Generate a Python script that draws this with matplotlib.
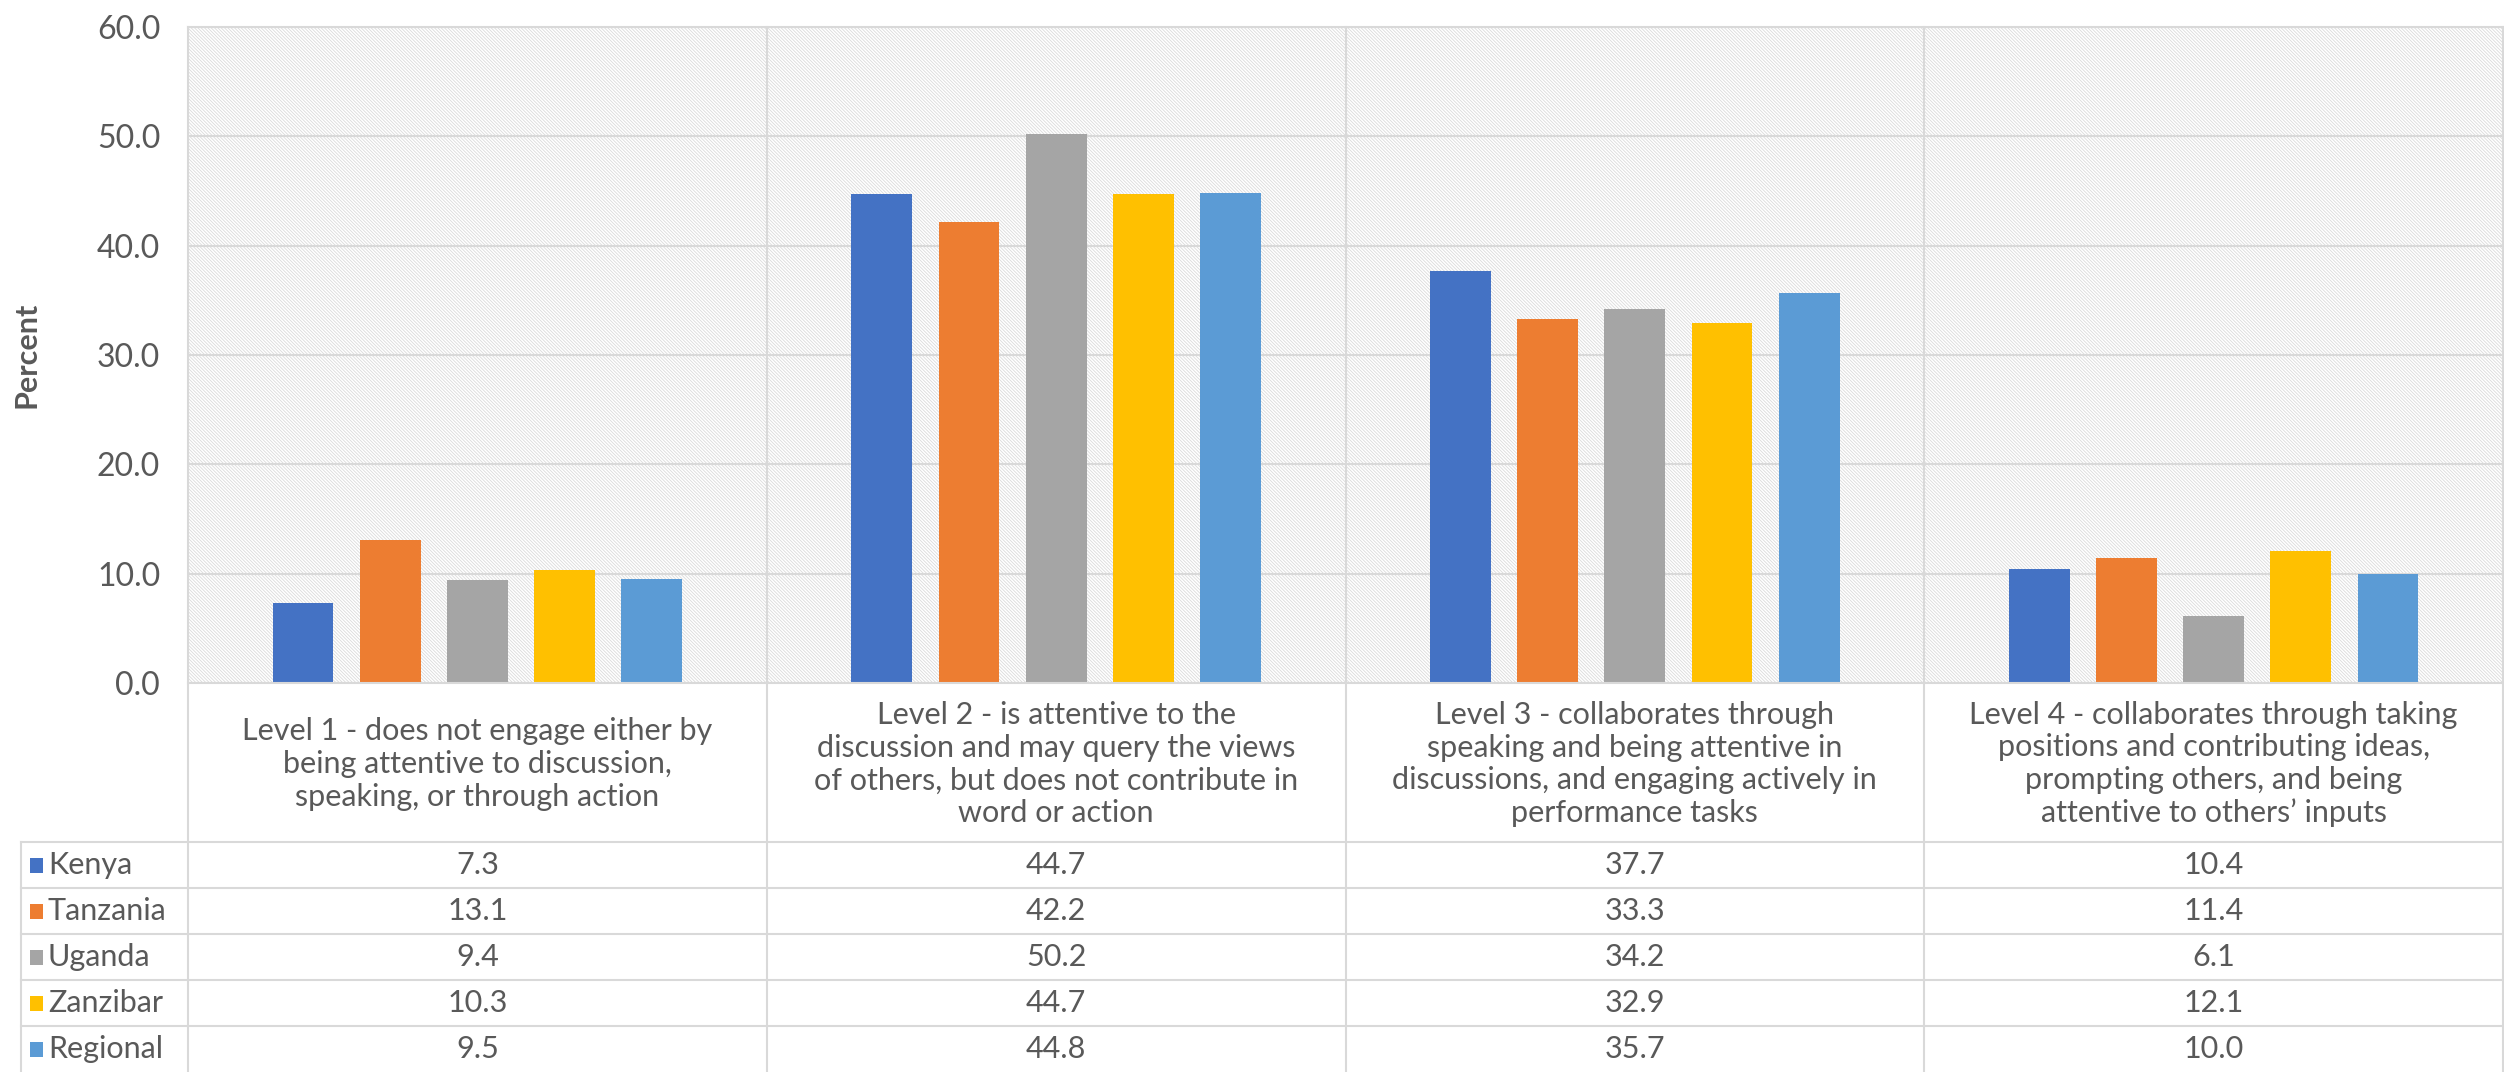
import matplotlib
matplotlib.use('Agg')
import matplotlib.pyplot as plt
from matplotlib.transforms import blended_transform_factory
from matplotlib.lines import Line2D
from matplotlib.patches import Rectangle

# ---------------- data ----------------
categories = [
    "Level 1 - does not engage either by\nbeing attentive to discussion,\nspeaking, or through action",
    "Level 2 - is attentive to the\ndiscussion and may query the views\nof others, but does not contribute in\nword or action",
    "Level 3 - collaborates through\nspeaking and being attentive in\ndiscussions, and engaging actively in\nperformance tasks",
    "Level 4 - collaborates through taking\npositions and contributing ideas,\nprompting others, and being\nattentive to others\u2019 inputs",
]
series_names = ["Kenya", "Tanzania", "Uganda", "Zanzibar", "Regional"]
kenya = [7.3, 44.7, 37.7, 10.4]
tanzania = [13.1, 42.2, 33.3, 11.4]
uganda = [9.4, 50.2, 34.2, 6.1]
zanzibar = [10.3, 44.7, 32.9, 12.1]
regional = [9.5, 44.8, 35.7, 10.0]
series_values = [kenya, tanzania, uganda, zanzibar, regional]
colors = ["#4472C4", "#ED7D31", "#A5A5A5", "#FFC000", "#5B9BD5"]
yticks = [0, 10, 20, 30, 40, 50, 60]
ylabel = "Percent"

# ---------------- style ----------------
plt.rcParams['font.family'] = ['Lato', 'DejaVu Sans']
TXT = '#595959'
GRID = '#d9d9d9'
FS = 22

W, H = 2504, 1072
fig = plt.figure(figsize=(W / 100, H / 100), dpi=100)

def fx(x):
    return x / W

def fy(y):
    return 1 - y / H

L, R, T, B = 188, 2503, 27, 683
ax = fig.add_axes([fx(L), fy(B), fx(R) - fx(L), fy(T) - fy(B)])

n = len(categories)
ax.set_xlim(-0.5, n - 0.5)
ax.set_ylim(0, 60)

# hatched background
plt.rcParams['hatch.linewidth'] = 0.6
bg = Rectangle((0, 0), 1, 1, transform=ax.transAxes, facecolor='white',
               edgecolor='#dadada', hatch='\\' * 10, linewidth=0, zorder=0)
ax.add_patch(bg)

step = 0.1507
bw = 0.105
for i, (name, vals, c) in enumerate(zip(series_names, series_values, colors)):
    xs = [k + (i - 2) * step for k in range(n)]
    ax.bar(xs, vals, width=bw, color=c, zorder=3, label=name)

ax.set_yticks(yticks)
ax.set_yticklabels([f"{v:.1f}" for v in yticks], fontsize=FS + 1, color=TXT)
ax.tick_params(axis='y', length=0, pad=20)
ax.set_xticks([])
ax.yaxis.grid(True, color=GRID, linewidth=1.5, zorder=1)
ax.set_axisbelow(True)
for s in ax.spines.values():
    s.set_visible(False)

fig.text(fx(27), fy(355), ylabel, rotation=90, ha='center', va='center',
         fontsize=FS, fontweight='bold', color=TXT)

# ---------------- table ----------------
bt = blended_transform_factory(ax.transData, fig.transFigure)
lw = 1.5

def hline(x0, x1, y):
    fig.add_artist(Line2D([fx(x0), fx(x1)], [fy(y), fy(y)], transform=fig.transFigure,
                          color=GRID, linewidth=lw, zorder=5))

# vertical category separators through plot and table
for k in range(n + 1):
    fig.add_artist(Line2D([k - 0.5, k - 0.5], [fy(T), fy(1072)], transform=bt,
                          color=GRID, linewidth=lw, zorder=5, clip_on=False))
# left of label column
fig.add_artist(Line2D([fx(21), fx(21)], [fy(842), fy(1072)], transform=fig.transFigure,
                      color=GRID, linewidth=lw, zorder=5))
hline(L, R, T)
hline(L, R, B)
row_tops = [842, 888, 934, 980, 1026]
for y in row_tops:
    hline(21, R, y)

# header category labels
for k, cat in enumerate(categories):
    fig.text(k, fy(764), cat, transform=bt, ha='center', va='center',
             fontsize=FS, color=TXT, linespacing=1.2)

# rows
for i, (name, vals, c) in enumerate(zip(series_names, series_values, colors)):
    yc = row_tops[i] + 23
    fig.add_artist(Rectangle((fx(30), fy(yc + 8)), fx(13), 15 / H,
                             transform=fig.transFigure, facecolor=c, edgecolor='none'))
    fig.text(fx(48), fy(yc), name, ha='left', va='center', fontsize=FS, color=TXT)
    for k, v in enumerate(vals):
        fig.text(k, fy(yc), f"{v:.1f}", transform=bt, ha='center', va='center',
                 fontsize=FS, color=TXT)

fig.savefig('out.png', dpi=100, facecolor='white')
